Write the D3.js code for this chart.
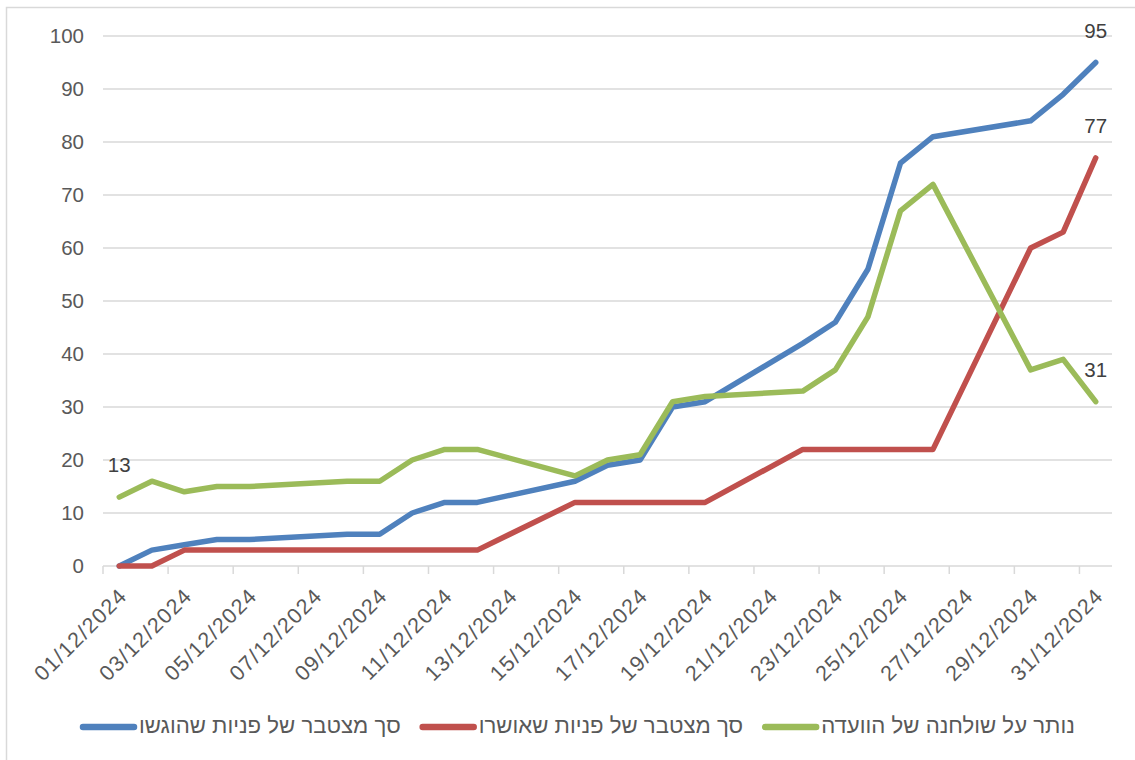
<!DOCTYPE html>
<html>
<head>
<meta charset="utf-8">
<script src="https://d3js.org/d3.v7.min.js"></script>
<style>
    body { margin: 0; background: #fff; }
    svg { display: block; font-family: "Liberation Sans", Arial, sans-serif; }
</style>
</head>
<body>
<svg id="chart" width="1135" height="760"></svg>
<script>
// working days with a report (weekends Fri/Sat are missing, lines just connect)
let dates = ["01/12/2024", "02/12/2024", "03/12/2024", "04/12/2024", "05/12/2024",
    "08/12/2024", "09/12/2024", "10/12/2024", "11/12/2024", "12/12/2024",
    "15/12/2024", "16/12/2024", "17/12/2024", "18/12/2024", "19/12/2024",
    "22/12/2024", "23/12/2024", "24/12/2024", "25/12/2024", "26/12/2024",
    "29/12/2024", "30/12/2024", "31/12/2024"];

let submitted = [0, 3, 4, 5, 5, 6, 6, 10, 12, 12, 16, 19, 20, 30, 31, 42, 46, 56, 76, 81, 84, 89, 95];
let approved = [0, 0, 3, 3, 3, 3, 3, 3, 3, 3, 12, 12, 12, 12, 12, 22, 22, 22, 22, 22, 60, 63, 77];
let pending = [13, 16, 14, 15, 15, 16, 16, 20, 22, 22, 17, 20, 21, 31, 32, 33, 37, 47, 67, 72, 37, 39, 31];

let tickLabels = ["01/12/2024", "03/12/2024", "05/12/2024", "07/12/2024", "09/12/2024",
    "11/12/2024", "13/12/2024", "15/12/2024", "17/12/2024", "19/12/2024",
    "21/12/2024", "23/12/2024", "25/12/2024", "27/12/2024", "29/12/2024", "31/12/2024"];

let yTicks = [0, 10, 20, 30, 40, 50, 60, 70, 80, 90, 100];

let seriesNames = ["סך מצטבר של פניות שהוגשו", "סך מצטבר של פניות שאושרו", "נותר על שולחנה של הוועדה"];
let seriesColors = ["#4F81BD", "#C0504D", "#9BBB59"];

let parse = d3.timeParse("%d/%m/%Y");
let svg = d3.select("#chart");

let plotLeft = 103, plotRight = 1112, plotTop = 36, plotBottom = 566;

// light frame of the chart area (only left/top are visible in the picture)
svg.append("rect")
    .attr("x", 6.5).attr("y", 7.5)
    .attr("width", 1200).attr("height", 800)
    .attr("fill", "none")
    .attr("stroke", "#d9d9d9")
    .attr("stroke-width", 1.5);

let first = parse(tickLabels[0]);
let last = parse(tickLabels[tickLabels.length - 1]);
let xScale = d3.scaleTime()
    .domain([d3.timeHour.offset(first, -12), d3.timeHour.offset(last, 12)])
    .range([plotLeft, plotRight]);

let yScale = d3.scaleLinear().domain([0, 100]).range([plotBottom, plotTop]);

// gridlines
svg.append("g").selectAll("line")
    .data(yTicks.filter(d => d > 0))
    .enter().append("line")
    .attr("x1", plotLeft).attr("x2", plotRight)
    .attr("y1", d => yScale(d)).attr("y2", d => yScale(d))
    .attr("stroke", "#d9d9d9")
    .attr("stroke-width", 1.5);

// y axis labels
let yAxis = d3.axisLeft(yScale).tickValues(yTicks).tickSize(0).tickPadding(19);
let yAxisG = svg.append("g")
    .attr("transform", "translate(" + plotLeft + ",0)")
    .call(yAxis);
yAxisG.select(".domain").remove();
yAxisG.selectAll("text")
    .attr("font-size", 20.5)
    .attr("font-family", "Liberation Sans, Arial, sans-serif")
    .attr("fill", "#595959");

// x axis line + tick marks at category boundaries
svg.append("line")
    .attr("x1", plotLeft).attr("x2", plotRight)
    .attr("y1", plotBottom).attr("y2", plotBottom)
    .attr("stroke", "#d9d9d9")
    .attr("stroke-width", 1.5);

let tickDates = tickLabels.map(parse);
svg.append("g").selectAll("line")
    .data(tickDates)
    .enter().append("line")
    .attr("x1", d => xScale(d3.timeHour.offset(d, -12)))
    .attr("x2", d => xScale(d3.timeHour.offset(d, -12)))
    .attr("y1", plotBottom).attr("y2", plotBottom + 8)
    .attr("stroke", "#d9d9d9")
    .attr("stroke-width", 1.5);

svg.append("g").selectAll("text")
    .data(tickLabels)
    .enter().append("text")
    .attr("transform", d => "translate(" + (xScale(parse(d)) + 5) + "," + (plotBottom + 27) + ") rotate(-45)")
    .attr("text-anchor", "end")
    .attr("dominant-baseline", "middle")
    .attr("font-size", 21.5)
    .attr("letter-spacing", 1.3)
    .attr("fill", "#595959")
    .text(d => d);

// lines
let allSeries = [submitted, approved, pending];
let line = d3.line()
    .x((d, i) => xScale(parse(dates[i])))
    .y(d => yScale(d));

svg.append("g").selectAll("path")
    .data(allSeries)
    .enter().append("path")
    .attr("d", d => line(d))
    .attr("fill", "none")
    .attr("stroke", (d, i) => seriesColors[i])
    .attr("stroke-width", 5.5)
    .attr("stroke-linejoin", "round")
    .attr("stroke-linecap", "round");

// data labels: first point of pending, last point of every series
let labels = [
    { date: dates[0], value: pending[0] },
    { date: dates[dates.length - 1], value: submitted[submitted.length - 1] },
    { date: dates[dates.length - 1], value: approved[approved.length - 1] },
    { date: dates[dates.length - 1], value: pending[pending.length - 1] }
];
svg.append("g").selectAll("text")
    .data(labels)
    .enter().append("text")
    .attr("x", d => xScale(parse(d.date)))
    .attr("y", d => yScale(d.value) - 25)
    .attr("text-anchor", "middle")
    .attr("font-size", 20.5)
    .attr("fill", "#404040")
    .text(d => d.value);

// legend
let legend = svg.append("g").attr("transform", "translate(80,727)");
let lx = 0;
seriesNames.forEach(function (name, i) {
    legend.append("line")
        .attr("x1", lx + 3).attr("x2", lx + 54)
        .attr("y1", 0).attr("y2", 0)
        .attr("stroke", seriesColors[i])
        .attr("stroke-width", 6.5)
        .attr("stroke-linecap", "round");
    let t = legend.append("text")
        .attr("x", lx + 59)
        .attr("y", 0)
        .attr("dominant-baseline", "middle")
        .attr("font-size", 22.2)
        .attr("fill", "#595959")
        .text(name);
    lx += 59 + t.node().getComputedTextLength() + 19;
});
</script>
</body>
</html>
